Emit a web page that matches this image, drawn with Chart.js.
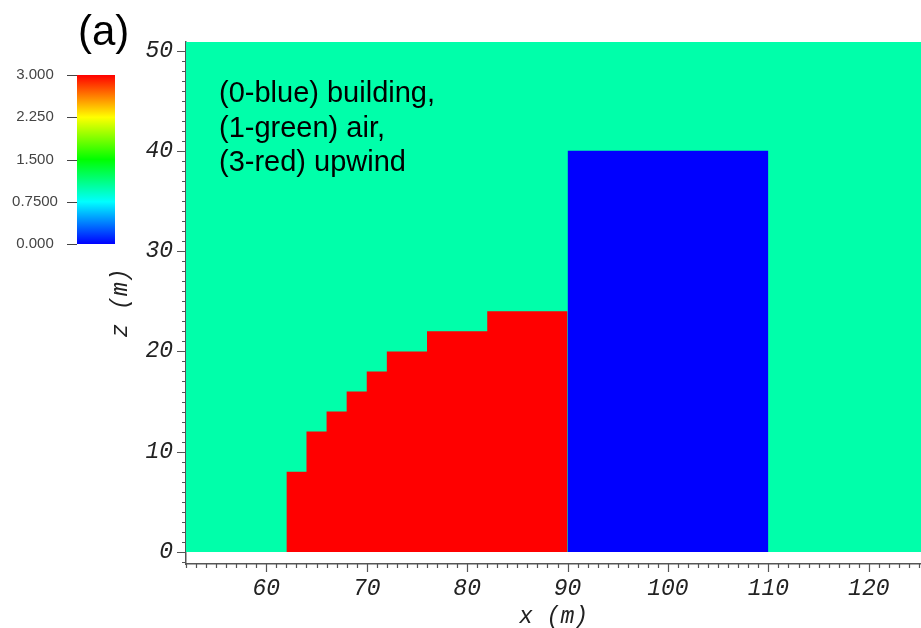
<!DOCTYPE html>
<html>
<head>
<meta charset="utf-8">
<script src="https://cdn.jsdelivr.net/npm/chart.js@4.4.1/dist/chart.umd.min.js"></script>
<style>
  html, body { margin: 0; padding: 0; background: #fff; }
  #wrap { position: relative; width: 921px; height: 628px; }
</style>
</head>
<body>
<div id="wrap"><canvas id="c"></canvas></div>
<script>
// ── Data ────────────────────────────────────────────────────────────────────
// Domain extent (m)
const domainX = [52, 125.2];
const domainTop = 50.85;
const axisYMin = -1.2;

// Axis tick labels
const xTicks = [60, 70, 80, 90, 100, 110, 120];
const yTicks = [0, 10, 20, 30, 40, 50];

// Upwind region (value 3, red): x start of each step and its height
const upwindX = [62, 64, 66, 68, 70, 72, 76, 82, 90];
const upwindZ = [8, 12, 14, 16, 18, 20, 22, 24, 24];

// Building (value 0, blue)
const buildingX = [90, 110];
const buildingZ = [40, 40];

// Colour bar
const cbValues = [0, 0.75, 1.5, 2.25, 3];
const cbLabels = ['0.000', '0.7500', '1.500', '2.250', '3.000'];
const cbColors = ['#0000ff', '#00ffff', '#00ff00', '#ffff00', '#ff0000'];

const noteLines = ['(0-blue) building,', '(1-green) air,', '(3-red) upwind'];

// ── Helpers ─────────────────────────────────────────────────────────────────
const tickFont = { family: 'Liberation Mono', size: 23, style: 'italic' };
const axisColor = '#555';

function pts(xs, ys) {
  return xs.map((x, i) => ({ x, y: ys[i] }));
}

// Minor (every 1 m) and major (every 10 m) tick marks, colour bar, notes
const decorPlugin = {
  id: 'decor',
  afterDraw(chart) {
    const { ctx, chartArea, scales } = chart;
    const sx = scales.x, sy = scales.y;
    ctx.save();
    ctx.strokeStyle = axisColor;
    ctx.lineWidth = 1.2;
    ctx.beginPath();
    for (let v = Math.ceil(sx.min); v <= sx.max; v++) {
      const px = Math.round(sx.getPixelForValue(v)) + 0.5;
      const len = v % 10 === 0 ? 8 : 4;
      ctx.moveTo(px, chartArea.bottom);
      ctx.lineTo(px, chartArea.bottom + len);
    }
    for (let v = Math.ceil(sy.min); v <= sy.max; v++) {
      const py = Math.round(sy.getPixelForValue(v)) + 0.5;
      const len = v % 10 === 0 ? 9 : 4;
      ctx.moveTo(chartArea.left, py);
      ctx.lineTo(chartArea.left - len, py);
    }
    ctx.stroke();

    // annotation inside the plot
    ctx.fillStyle = '#000';
    ctx.font = '29px "Liberation Sans", Arial, sans-serif';
    ctx.textBaseline = 'alphabetic';
    ctx.textAlign = 'left';
    noteLines.forEach((t, i) => ctx.fillText(t, 219, 102 + i * 34.5));

    // colour bar
    const cb = { left: 77, right: 115, top: 75, bottom: 244 };
    const g = ctx.createLinearGradient(0, cb.bottom, 0, cb.top);
    cbValues.forEach((v, i) => g.addColorStop(v / 3, cbColors[i]));
    ctx.fillStyle = g;
    ctx.fillRect(cb.left, cb.top, cb.right - cb.left, cb.bottom - cb.top);
    ctx.strokeStyle = '#444';
    ctx.lineWidth = 1;
    ctx.fillStyle = '#444';
    ctx.font = '15px "Liberation Sans", Arial, sans-serif';
    ctx.textAlign = 'center';
    ctx.textBaseline = 'middle';
    cbValues.forEach((v, i) => {
      const py = cb.bottom - (v / 3) * (cb.bottom - cb.top);
      ctx.beginPath();
      ctx.moveTo(67, Math.round(py) + 0.5);
      ctx.lineTo(cb.left, Math.round(py) + 0.5);
      ctx.stroke();
      ctx.fillText(cbLabels[i], 35, py);
    });

    // panel label
    ctx.fillStyle = '#000';
    ctx.font = '42px "Liberation Sans", Arial, sans-serif';
    ctx.textAlign = 'left';
    ctx.textBaseline = 'alphabetic';
    ctx.fillText('(a)', 78, 45);
    ctx.restore();
  },
};

// ── Chart ───────────────────────────────────────────────────────────────────
new Chart(document.getElementById('c'), {
  type: 'line',
  plugins: [decorPlugin],
  data: {
    datasets: [
      {
        label: 'building',
        data: pts(buildingX, buildingZ),
        backgroundColor: '#0000ff',
        borderWidth: 0,
        fill: 'origin',
        pointRadius: 0,
        order: 1,
      },
      {
        label: 'upwind',
        data: pts(upwindX, upwindZ),
        backgroundColor: '#ff0000',
        borderWidth: 0,
        stepped: 'before',
        fill: 'origin',
        pointRadius: 0,
        order: 2,
      },
      {
        label: 'air',
        data: pts(domainX, [domainTop, domainTop]),
        backgroundColor: '#00ffaa',
        borderWidth: 0,
        fill: 'origin',
        pointRadius: 0,
        order: 3,
      },
    ],
  },
  options: {
    responsive: true,
    maintainAspectRatio: false,
    animation: false,
    devicePixelRatio: 1,
    layout: { padding: { left: 100, top: 42, right: 0, bottom: 0 } },
    plugins: {
      legend: { display: false },
      tooltip: { enabled: false },
    },
    scales: {
      x: {
        type: 'linear',
        min: domainX[0],
        max: domainX[1],
        afterBuildTicks: (s) => { s.ticks = xTicks.map((value) => ({ value })); },
        afterFit: (s) => { s.height = 64; s.paddingRight = 0; },
        grid: { display: false, drawTicks: false },
        border: { display: true, color: axisColor, width: 1.5 },
        ticks: {
          padding: 11,
          color: '#222',
          font: tickFont,
          maxRotation: 0,
          autoSkip: false,
        },
        title: {
          display: true,
          text: 'x (m)',
          color: '#222',
          font: { ...tickFont, lineHeight: 1 },
          padding: { top: 0, bottom: 0 },
        },
      },
      y: {
        type: 'linear',
        min: axisYMin,
        max: domainTop,
        afterBuildTicks: (s) => { s.ticks = yTicks.map((value) => ({ value })); },
        afterFit: (s) => { s.width = 86; },
        grid: { display: false, drawTicks: false },
        border: { display: true, color: axisColor, width: 1.5 },
        ticks: {
          padding: 13,
          color: '#222',
          font: tickFont,
          autoSkip: false,
        },
        title: {
          display: true,
          text: 'z (m)',
          color: '#222',
          font: tickFont,
          padding: { top: 7, bottom: 0 },
        },
      },
    },
  },
});
</script>
</body>
</html>
